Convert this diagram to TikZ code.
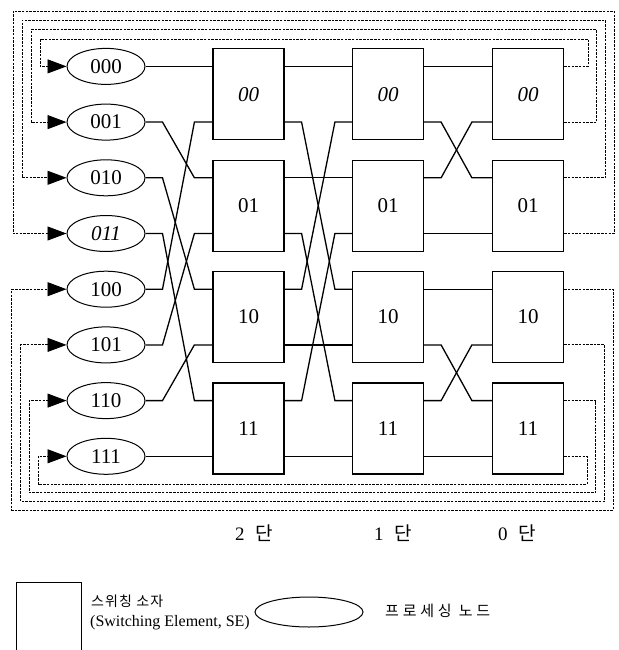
\documentclass[tikz,border=0pt]{standalone}
\usepackage{fontspec}
\setmainfont{Liberation Serif}
\newfontfamily\krfont{Noto Sans CJK KR}
\usetikzlibrary{shapes.geometric,calc,arrows.meta}
\begin{document}
\begin{tikzpicture}[x=1pt,y=-1pt,
  pnode/.style={ellipse,draw,line width=1pt,minimum width=78pt,minimum height=36pt,inner sep=0pt,font=\fontsize{21}{22}\selectfont},
  sebox/.style={rectangle,draw,line width=1.2pt,minimum width=71pt,minimum height=91pt,inner sep=0pt,font=\fontsize{21}{22}\selectfont},
  wire/.style={line width=1.3pt},
  fb/.style={line width=0.9pt,dash pattern=on 2.5pt off 1.2pt},
  fbarrow/.style={fb,-{Triangle[length=19pt,width=14pt]}},
  stagelbl/.style={font=\fontsize{19}{21}\selectfont,inner sep=0pt},
  legtext/.style={anchor=west,inner sep=0pt}
]
\useasboundingbox (0,0) rectangle (618,650);

% processing nodes
\foreach \lab [count=\r from 0] in {000,001,010,\textit{011},100,101,110,111}
  \node[pnode] (e\r) at (106,{66.4+55.7*\r}) {\lab};

% switching elements
\foreach \c/\x in {2/248.5,1/388,0/528}
  \foreach \lab [count=\j from 0] in {\textit{00},01,10,11}
    \node[sebox] (b\c\j) at (\x,{94.25+111.4*\j}) {\lab};

% ports
\foreach \c in {2,1,0}
  \foreach \r in {0,...,7} {
    \pgfmathtruncatemacro\jj{floor(\r/2)}
    \coordinate (in\c-\r) at (b\c\jj.west |- e\r);
    \coordinate (out\c-\r) at (b\c\jj.east |- e\r);
  }

% nodes -> stage 2 (perfect shuffle)
\foreach \s/\t in {0/0,1/2,2/4,3/6,4/1,5/3,6/5,7/7}
  \draw[wire] (e\s.east) -- ++(17,0) -- ($(in2-\t)+(-18,0)$) -- (in2-\t);

% stage 2 -> stage 1
\foreach \s/\t in {0/0,1/4,2/2,3/6,4/1,5/5,6/3,7/7}
  \draw[wire] (out2-\s) -- ++(17,0) -- ($(in1-\t)+(-17,0)$) -- (in1-\t);

% stage 1 -> stage 0
\foreach \s/\t in {0/0,1/2,2/1,3/3,4/4,5/6,6/5,7/7}
  \draw[wire] (out1-\s) -- ++(17,0) -- ($(in0-\t)+(-20,0)$) -- (in0-\t);

% feedback loops (top)
\foreach \k in {0,...,3}
  \draw[fbarrow] (out0-\k) -| ({588+8.7*\k},{39-9.3*\k}) -- ({40-9*\k},{39-9.3*\k}) |- (e\k.west);

% feedback loops (bottom)
\foreach \r in {4,...,7} {
  \pgfmathsetmacro\m{7-\r}
  \draw[fbarrow] (out0-\r) -| ({587+8.7*\m},{484+8.7*\m}) -- ({38-8.7*\m},{484+8.7*\m}) |- (e\r.west);
}

% stage labels
\node[stagelbl] (s2) at (254,533) {2\hspace{11pt}{\krfont 단}};
\node[stagelbl] (s1) at (393,533) {1\hspace{11pt}{\krfont 단}};
\node[stagelbl] (s0) at (517,533) {0\hspace{11pt}{\krfont 단}};

% legend
\draw[line width=1pt] (16,650) -- (16,582) -- (81,582) -- (81,650);
\node[legtext,font=\krfont\fontsize{14}{16}\selectfont\addfontfeature{LetterSpace=8}] (legt1) at (91,601) {스위칭 소자};
\node[legtext,font=\fontsize{16}{18}\selectfont] (legt2) at (90,623) {(Switching Element, SE)};
\node[ellipse,draw,line width=1pt,minimum width=108pt,minimum height=30pt,inner sep=0pt] (legell) at (309,612) {};
\node[legtext,font=\krfont\fontsize{15}{17}\selectfont\addfontfeature{LetterSpace=25}] (legt3) at (385,611) {프로세싱 노드};
\end{tikzpicture}
\end{document}
